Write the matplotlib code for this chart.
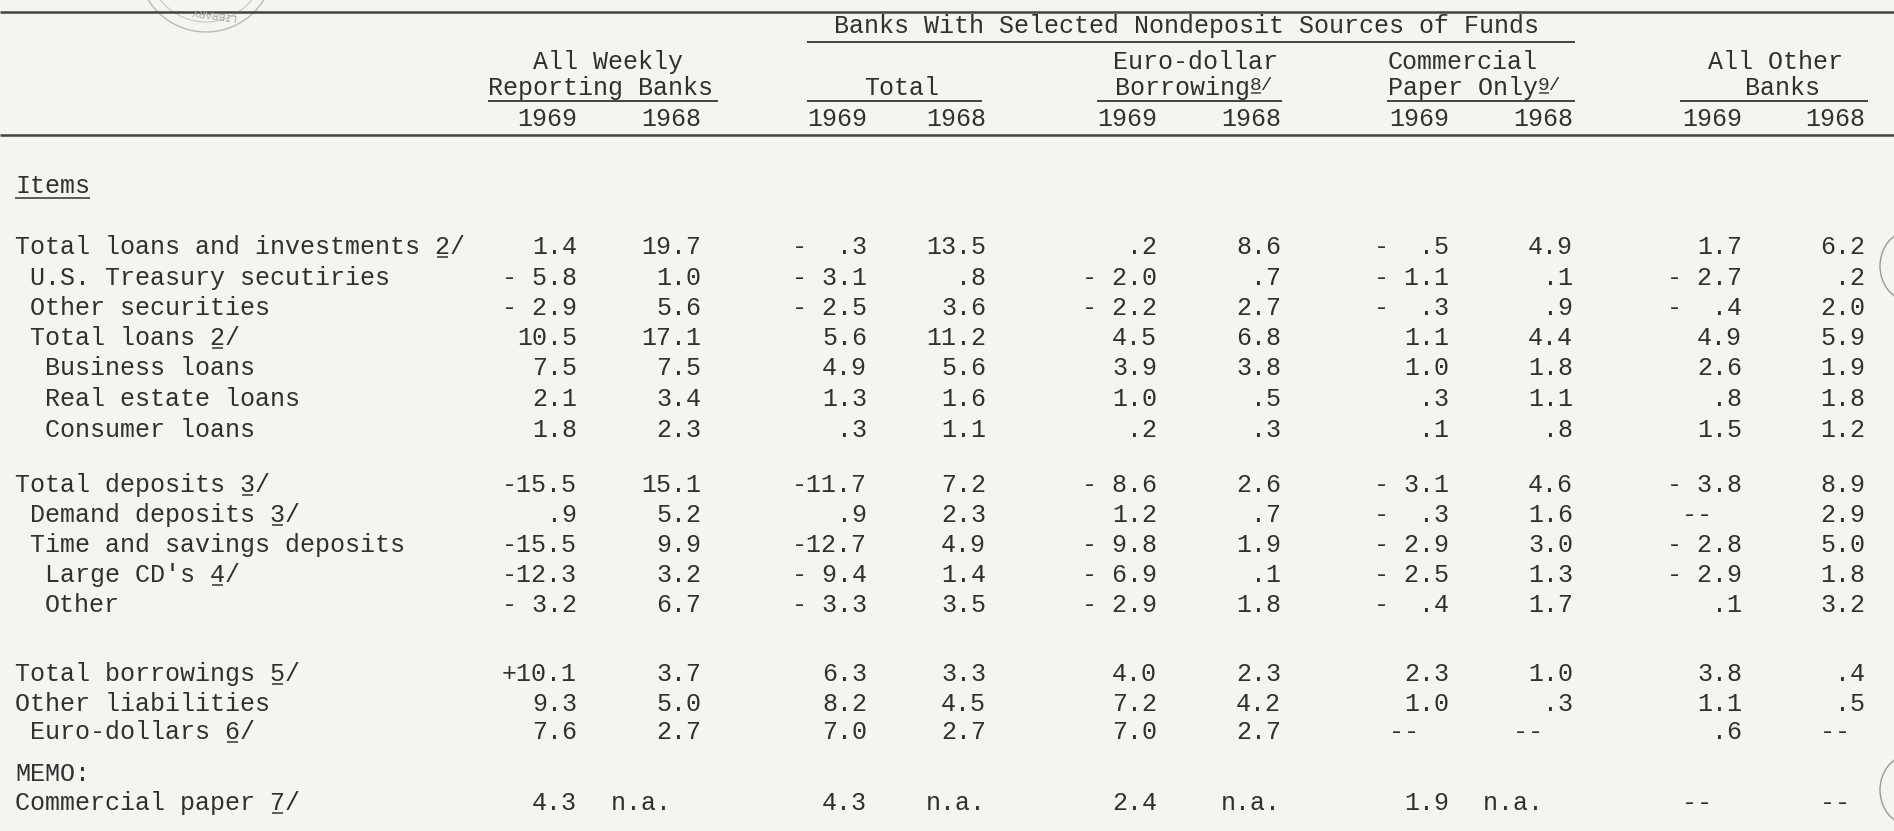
import matplotlib

matplotlib.use("Agg")
import matplotlib.pyplot as plt
from matplotlib.patches import Arc, Circle

# ---- table data -------------------------------------------------------------
row_labels = [
    "Total loans and investments 2/",
    "U.S. Treasury secutiries",
    "Other securities",
    "Total loans 2/",
    "Business loans",
    "Real estate loans",
    "Consumer loans",
    "Total deposits 3/",
    "Demand deposits 3/",
    "Time and savings deposits",
    "Large CD's 4/",
    "Other",
    "Total borrowings 5/",
    "Other liabilities",
    "Euro-dollars 6/",
    "MEMO:",
    "Commercial paper 7/",
]
row_indent = [0, 1, 1, 1, 2, 2, 2, 0, 1, 1, 2, 2, 0, 0, 1, 0, 0]

all_weekly_1969 = ["1.4", "- 5.8", "- 2.9", "10.5", "7.5", "2.1", "1.8", "-15.5", ".9",
                   "-15.5", "-12.3", "- 3.2", "+10.1", "9.3", "7.6", "", "4.3"]
all_weekly_1968 = ["19.7", "1.0", "5.6", "17.1", "7.5", "3.4", "2.3", "15.1", "5.2",
                   "9.9", "3.2", "6.7", "3.7", "5.0", "2.7", "", "n.a.  "]
total_1969 = ["-  .3", "- 3.1", "- 2.5", "5.6", "4.9", "1.3", ".3", "-11.7", ".9",
              "-12.7", "- 9.4", "- 3.3", "6.3", "8.2", "7.0", "", "4.3"]
total_1968 = ["13.5", ".8", "3.6", "11.2", "5.6", "1.6", "1.1", "7.2", "2.3",
              "4.9", "1.4", "3.5", "3.3", "4.5", "2.7", "", "n.a."]
euro_1969 = [".2", "- 2.0", "- 2.2", "4.5", "3.9", "1.0", ".2", "- 8.6", "1.2",
             "- 9.8", "- 6.9", "- 2.9", "4.0", "7.2", "7.0", "", "2.4"]
euro_1968 = ["8.6", ".7", "2.7", "6.8", "3.8", ".5", ".3", "2.6", ".7",
             "1.9", ".1", "1.8", "2.3", "4.2", "2.7", "", "n.a."]
cpaper_1969 = ["-  .5", "- 1.1", "-  .3", "1.1", "1.0", ".3", ".1", "- 3.1", "-  .3",
               "- 2.9", "- 2.5", "-  .4", "2.3", "1.0", "--  ", "", "1.9"]
cpaper_1968 = ["4.9", ".1", ".9", "4.4", "1.8", "1.1", ".8", "4.6", "1.6",
               "3.0", "1.3", "1.7", "1.0", ".3", "--  ", "", "n.a.  "]
other_1969 = ["1.7", "- 2.7", "-  .4", "4.9", "2.6", ".8", "1.5", "- 3.8", "--  ",
              "- 2.8", "- 2.9", ".1", "3.8", "1.1", ".6", "", "--  "]
other_1968 = ["6.2", ".2", "2.0", "5.9", "1.9", "1.8", "1.2", "8.9", "2.9",
              "5.0", "1.8", "3.2", ".4", ".5", "-- ", "", "-- "]

columns = [all_weekly_1969, all_weekly_1968, total_1969, total_1968, euro_1969,
           euro_1968, cpaper_1969, cpaper_1968, other_1969, other_1968]
years = ["1969", "1968"] * 5

# ---- layout (pixel space of the 1894 x 831 page) ---------------------------
W, H = 1894, 831
FS = 18
CW = FS * 0.6 * 100 / 72          # monospace advance in px
INK = "#303030"
LINE = "#424242"
PAPER = "#f5f4f0"
FONT = ["Liberation Mono", "DejaVu Sans Mono"]

col_right = [577, 701, 867, 986, 1157, 1281, 1449, 1573, 1742, 1865]
row_y = [246, 277, 307, 337, 367, 398, 429,
         484, 514, 544, 574, 604,
         673, 703, 731,
         773, 802]
label_x0 = 15
base_off = 8                       # centre -> baseline

fig = plt.figure(figsize=(W / 100, H / 100), dpi=100, facecolor=PAPER)
ax = fig.add_axes([0, 0, 1, 1])
ax.set_xlim(0, W)
ax.set_ylim(H, 0)
ax.axis("off")
ax.set_facecolor(PAPER)


def put(x, y, s, ha="left", size=FS, color=INK):
    ax.text(x, y, s, ha=ha, va="baseline", fontsize=size, family=FONT, color=color)


def hline(x0, x1, y, lw=1.4):
    ax.plot([x0, x1], [y, y], color=LINE, lw=lw, solid_capstyle="butt")


# ---- header ------------------------------------------------------------------
hline(0, W, 12, lw=1.8)
put(1186, 25 + base_off, "Banks With Selected Nondeposit Sources of Funds", ha="center")
hline(807, 1575, 42)

r2, r3 = 61 + base_off, 87 + base_off
ul = 101
sup_cw = 14 * 0.6 * 100 / 72
put(608, r2, "All Weekly", ha="center")
put(600, r3, "Reporting Banks", ha="center")
hline(488, 718, ul)

put(902, r3, "Total", ha="center")
hline(807, 982, ul)

put(1113, r2, "Euro-dollar")
put(1115, r3, "Borrowing")
sx = 1115 + 9 * CW
put(sx, r3 - 5, "8/", size=14)
hline(sx + 1, sx + sup_cw - 1, r3 - 2, lw=1.1)
hline(1097, 1282, ul)

put(1388, r2, "Commercial")
put(1388, r3, "Paper Only")
sx = 1388 + 10 * CW
put(sx, r3 - 5, "9/", size=14)
hline(sx + 1, sx + sup_cw - 1, r3 - 2, lw=1.1)
hline(1387, 1575, ul)

put(1708, r2, "All Other")
put(1745, r3, "Banks")
hline(1680, 1868, ul)

for xr, yr in zip(col_right, years):
    put(xr, 118 + base_off, yr, ha="right")
hline(0, W, 135, lw=1.8)

put(label_x0, 185 + base_off, "Items")
hline(label_x0, label_x0 + 5 * CW, 198, lw=1.2)

# ---- body --------------------------------------------------------------------
for i, (lab, ind) in enumerate(zip(row_labels, row_indent)):
    x = label_x0 + ind * CW
    yb = row_y[i] + base_off
    put(x, yb, lab)
    if lab.endswith("/"):
        k = len(lab) - 2
        hline(x + k * CW + 2, x + (k + 1) * CW - 2, yb + 3, lw=1.2)
    for xr, col in zip(col_right, columns):
        if col[i]:
            put(xr, yb, col[i], ha="right")

# ---- paper marks: library stamp and punch holes --------------------------------
ax.add_patch(Circle((206, -36), 68, fill=False, ec="#b9b9b9", lw=1.0))
ax.add_patch(Circle((206, -36), 58, fill=False, ec="#c6c6c6", lw=0.8))
ax.text(212, 14, "LIBRARY", rotation=172, fontsize=8, color="#a8a8a8",
        ha="center", va="center", family=FONT)
ax.add_patch(Arc((1910, 266), 60, 70, theta1=95, theta2=265, ec="#9a9a9a", lw=1.0))
ax.add_patch(Arc((1910, 790), 60, 70, theta1=95, theta2=265, ec="#9a9a9a", lw=1.0))

fig.savefig("out.png", dpi=100, facecolor=PAPER)
